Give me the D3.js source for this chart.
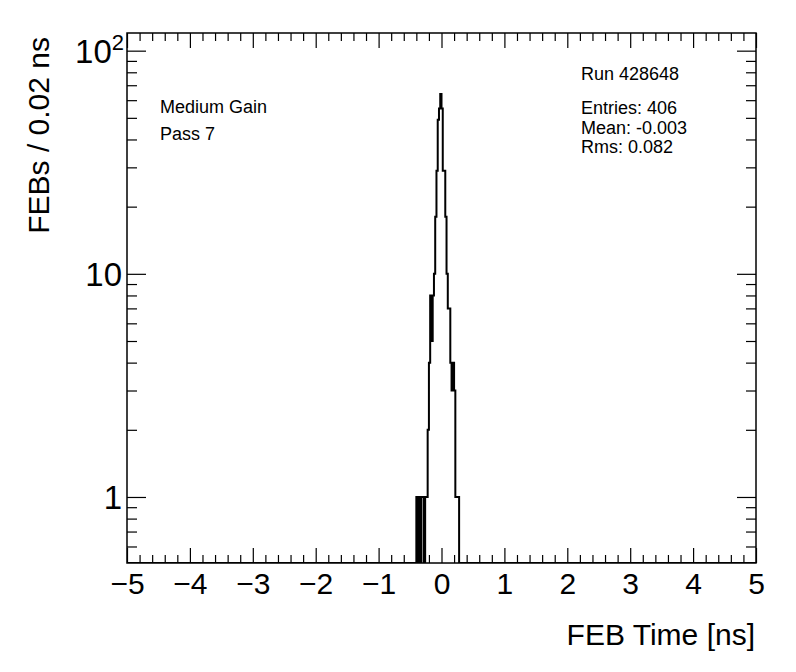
<!DOCTYPE html>
<html>
<head>
<meta charset="utf-8">
<script src="https://cdn.jsdelivr.net/npm/d3@7"></script>
<style>
  body { margin: 0; background: #fff; }
  svg { font-family: "Liberation Sans", Arial, Helvetica, sans-serif; }
</style>
</head>
<body>
<div id="chart"></div>
<script>
// histogram bins (left edge in ns, bin width 0.02) and counts
var binStart = [-0.40, -0.38, -0.36, -0.34, -0.32, -0.30, -0.28, -0.26, -0.24, -0.22,
                -0.20, -0.18, -0.16, -0.14, -0.12, -0.10, -0.08, -0.06, -0.04, -0.02,
                 0.00,  0.02,  0.04,  0.06,  0.08,  0.10,  0.12,  0.14,  0.16,  0.18,
                 0.20,  0.22,  0.24,  0.26];
var counts   = [1, 0, 1, 0, 1, 1, 0, 1, 1, 2,
                4, 8, 5, 8, 10, 18, 29, 49, 55, 64,
                55, 29, 29, 18, 10, 7, 7, 4, 3, 4,
                3, 1, 1, 1];
var binWidth = 0.02;

var xMajor = [-5, -4, -3, -2, -1, 0, 1, 2, 3, 4, 5];
var yMajor = [1, 10, 100];
var yLabels = ["1", "10", "10^2"];
var statsLines = ["Entries: 406", "Mean: -0.003", "Rms: 0.082"];
var runLabel = "Run 428648";
var infoLines = ["Medium Gain", "Pass 7"];

var W = 796, H = 672;
var margin = {top: 33, right: 40, bottom: 109, left: 127},
    width = W - margin.left - margin.right,
    height = H - margin.top - margin.bottom;

var svg = d3.select("#chart").append("svg")
    .attr("width", W).attr("height", H);

var g = svg.append("g")
    .attr("transform", "translate(" + margin.left + "," + margin.top + ")");

var x = d3.scaleLinear().domain([-5, 5]).range([0, width]);
var y = d3.scaleLog().domain([0.506, 120]).range([height, 0]);

// minor ticks
var xMinor = d3.range(-50, 51, 2).map(function(d) { return d / 10; })
    .filter(function(d) { return xMajor.indexOf(d) < 0; });
var yMinor = [0.6, 0.7, 0.8, 0.9, 2, 3, 4, 5, 6, 7, 8, 9, 20, 30, 40, 50, 60, 70, 80, 90];

function styleAxis(sel) {
  sel.select(".domain").remove();
  sel.selectAll("line").attr("stroke", "#000").attr("stroke-width", 1.2);
}

// bottom axis
g.append("g").attr("transform", "translate(0," + height + ")")
  .call(d3.axisBottom(x).tickValues(xMinor).tickSize(-8).tickFormat(""))
  .call(styleAxis);
g.append("g").attr("transform", "translate(0," + height + ")")
  .call(d3.axisBottom(x).tickValues(xMajor).tickSize(-15).tickPadding(10)
        .tickFormat(d3.format("d")))
  .call(styleAxis)
  .selectAll("text").attr("font-size", 30).attr("fill", "#000")
  .attr("font-family", "Liberation Sans, Arial, sans-serif");

// top axis
g.append("g")
  .call(d3.axisTop(x).tickValues(xMinor).tickSize(-8).tickFormat(""))
  .call(styleAxis);
g.append("g")
  .call(d3.axisTop(x).tickValues(xMajor).tickSize(-15).tickFormat(""))
  .call(styleAxis);

// left axis
g.append("g")
  .call(d3.axisLeft(y).tickValues(yMinor).tickSize(-10).tickFormat(""))
  .call(styleAxis);
var yl = g.append("g")
  .call(d3.axisLeft(y).tickValues(yMajor).tickSize(-19).tickPadding(5)
        .tickFormat(function(d, i) { return yLabels[i]; }))
  .call(styleAxis);
yl.selectAll("text").attr("font-size", 33).attr("fill", "#000").attr("dy", "0.36em")
  .attr("font-family", "Liberation Sans, Arial, sans-serif")
  .each(function(d, i) {
    var lab = yLabels[i];
    if (lab.indexOf("^") > 0) {
      var parts = lab.split("^");
      var t = d3.select(this).text(null).attr("dx", 2);
      t.append("tspan").text(parts[0]);
      t.append("tspan").attr("font-size", 22).attr("dy", "-0.6em").text(parts[1]);
    }
  });

// right axis
g.append("g").attr("transform", "translate(" + width + ",0)")
  .call(d3.axisRight(y).tickValues(yMinor).tickSize(-10).tickFormat(""))
  .call(styleAxis);
g.append("g").attr("transform", "translate(" + width + ",0)")
  .call(d3.axisRight(y).tickValues(yMajor).tickSize(-19).tickFormat(""))
  .call(styleAxis);

// histogram outline, empty bins drop to the frame bottom (log scale)
g.append("clipPath").attr("id", "frameClip")
  .append("rect").attr("width", width).attr("height", height);

var pts = [[x(-5), height], [x(binStart[0]), height]];
binStart.forEach(function(b, i) {
  var yy = counts[i] > 0 ? y(counts[i]) : height;
  pts.push([x(b), yy]);
  pts.push([x(b + binWidth), yy]);
});
pts.push([x(binStart[binStart.length - 1] + binWidth), height]);
pts.push([x(5), height]);

g.append("path")
  .attr("clip-path", "url(#frameClip)")
  .attr("d", d3.line()(pts))
  .attr("fill", "none")
  .attr("stroke", "#000")
  .attr("stroke-width", 2);

// frame
g.append("rect").attr("width", width).attr("height", height)
  .attr("fill", "none").attr("stroke", "#000").attr("stroke-width", 1.5);

// axis titles
svg.append("text").attr("x", 755).attr("y", 645)
  .attr("text-anchor", "end").attr("font-size", 30)
  .text("FEB Time [ns]");
svg.append("text")
  .attr("transform", "translate(49,37) rotate(-90)")
  .attr("text-anchor", "end").attr("font-size", 30)
  .text("FEBs / 0.02 ns");

// labels in the plot
svg.append("text").attr("x", 581).attr("y", 80).attr("font-size", 18).text(runLabel);
statsLines.forEach(function(s, i) {
  svg.append("text").attr("x", 581).attr("y", 114 + i * 19.5).attr("font-size", 18).text(s);
});
infoLines.forEach(function(s, i) {
  svg.append("text").attr("x", 160).attr("y", 113 + i * 27).attr("font-size", 18).text(s);
});
</script>
</body>
</html>
